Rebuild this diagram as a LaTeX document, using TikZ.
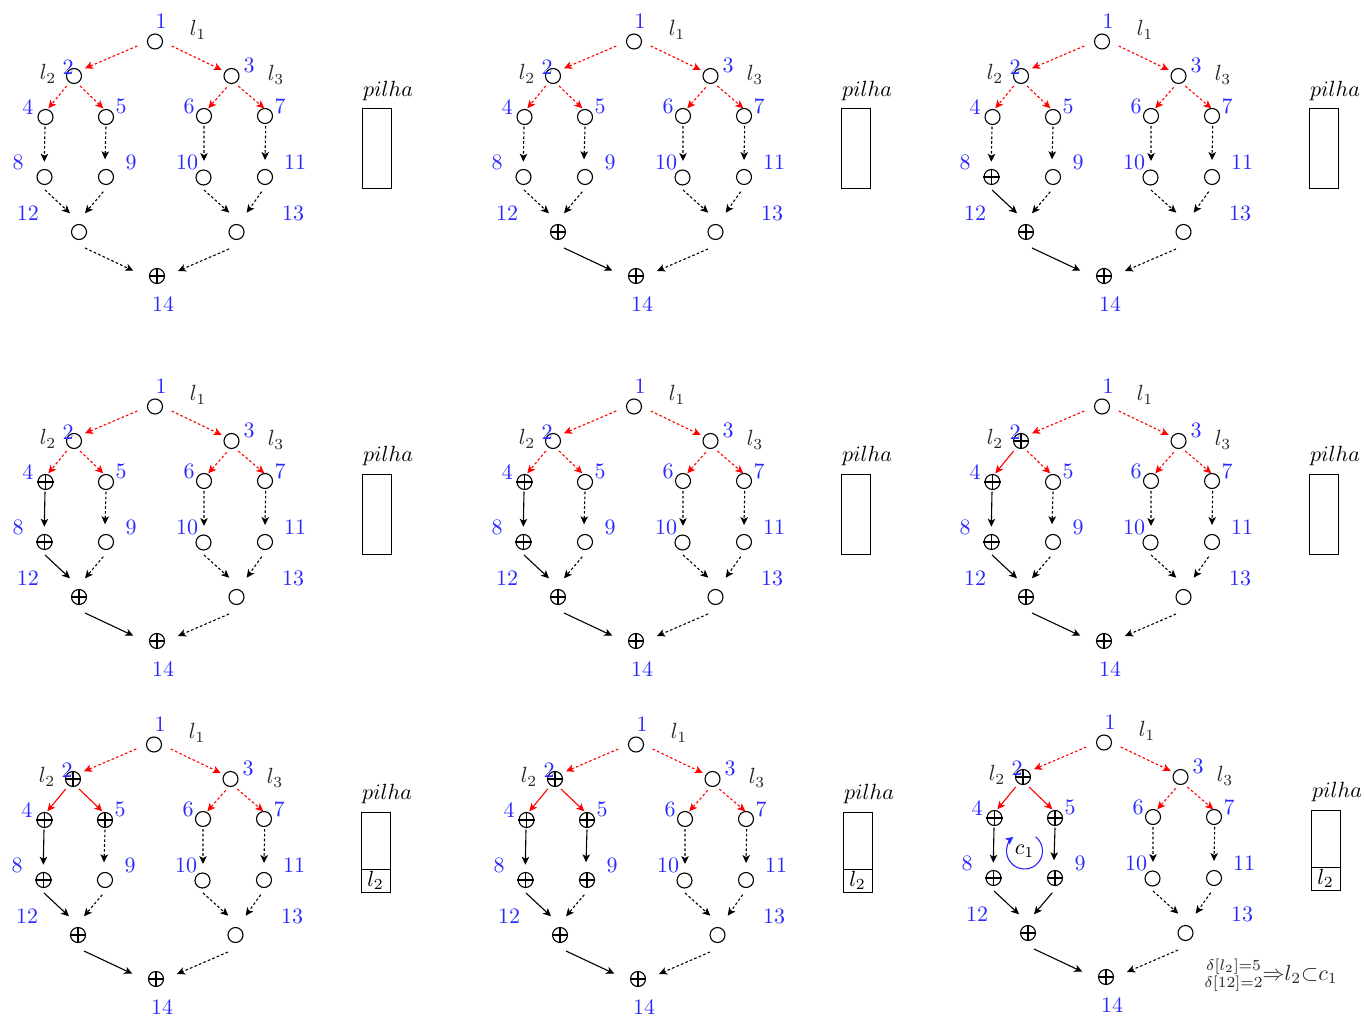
\documentclass[tikz,border=0pt]{standalone}
\usepackage{amsmath}
\usetikzlibrary{arrows.meta}
\newdimen\pxu \pxu=0.454545pt
\definecolor{numblue}{RGB}{40,40,255}
\tikzset{
  vertex/.style={circle, draw, line width=0.5pt, inner sep=0pt, minimum size=15\pxu},
  numlabel/.style={text=numblue, inner sep=0pt},
  varlabel/.style={text=black!85, inner sep=0pt},
  edge base/.style={line width=0.5pt, -{Stealth[length=3.6pt,width=3.4pt,inset=0.9pt]}},
  pending/.style={edge base, dash pattern=on 1.2pt off 1pt},
  done/.style={edge base},
  stackbox/.style={draw, line width=0.45pt, minimum width=29\pxu, minimum height=80\pxu, inner sep=0pt},
  stackcell/.style={draw, line width=0.45pt, minimum width=29\pxu, minimum height=23\pxu, inner sep=0pt},
}

% #1 prefix, #2/#3 offset, #4 visited vertices, #5 traversed edges, #6 stack entry
\newcommand\drawpanel[6]{%
\begin{scope}[shift={(#2,#3)}]
  \foreach \n/\x/\y in {1/155/41.5, 2/74/76, 3/231.5/76, 4/45.5/117, 5/106/117,
      6/204/116, 7/265/116, 8/44.5/177, 9/106/177, 10/203.5/177.5, 11/265/177,
      12/79/232, 13/236.5/232, 14/157/276}
    \node[vertex] (#1\n) at (\x,\y) {};
  \foreach \n in {#4}
    \draw[line width=0.5pt] (#1\n.north) -- (#1\n.south) (#1\n.west) -- (#1\n.east);
  \foreach \n/\x/\y in {1/161/21, 2/68/67, 3/249/65, 4/28/107, 5/121/106, 6/189/106,
      7/280/106, 8/18/162, 9/131/162, 10/187/162, 11/295/162, 12/28/213, 13/293/213,
      14/163/304}
    \node[numlabel] (#1t\n) at (\x,\y) {\n};
  \node[varlabel] (#1l1) at (198,30) {$l_1$};
  \node[varlabel] (#1l2) at (48,74) {$l_2$};
  \node[varlabel] (#1l3) at (276,75) {$l_3$};
  \foreach \e in {#5}
    {\expandafter\gdef\csname solid@#1@\e\endcsname{}}
  % from/to/colour/start offset/end offset
  \foreach \a/\b/\c/\sx/\sy/\ex/\ey in {
      1/2/red/-17.7/4.5/11/-7.7,      1/3/red/16.7/4.5/-9.8/-6,
      2/4/red/-7.3/10/2.8/-8.7,       2/5/red/6/10/-2.7/-8.7,
      3/6/red/-4.8/11.3/4.3/-7.7,     3/7/red/6.8/10/-0.7/-7.7,
      4/8/black/-0.5/9.7/-0.2/-15.3,  5/9/black/0/9.7/-1/-17.7,
      6/10/black/0/10/0.5/-16.5,      7/11/black/0.7/10/0/-17,
      8/12/black/0.5/13/-9/-18.7,     9/12/black/-2.7/14.7/6/-18.7,
      10/13/black/0.5/12.5/-7.2/-19.3, 11/13/black/-3.3/14.7/10.2/-19.3,
      12/14/black/6/16/-23.7/-5.3,    13/14/black/-7.5/17/21/-5}
  {
    \ifcsname solid@#1@\a-\b\endcsname \def\estyle{done}\else\def\estyle{pending}\fi
    \draw[\estyle, draw=\c]
      ([shift={(\sx,\sy)}]#1\a.center) -- ([shift={(\ex,\ey)}]#1\b.center);
  }
  \node[inner sep=0pt] (#1pilha) at (388,91) {$pilha$};
  \node[stackbox] (#1stack) at (376.5,149) {};
  \if\relax\detokenize{#6}\relax\else
    \node[stackcell, anchor=south] (#1cell) at (#1stack.south) {#6};
  \fi
\end{scope}}

\begin{document}
\begin{tikzpicture}[x=0.454545pt, y=-0.454545pt]
  \useasboundingbox (0,0) rectangle (1364,1017);

  \drawpanel{A}{0}{0}{14}{}{}
  \drawpanel{B}{479}{0}{12,14}{12-14}{}
  \drawpanel{C}{947}{0}{8,12,14}{8-12,12-14}{}

  \drawpanel{D}{0}{365}{4,8,12,14}{4-8,8-12,12-14}{}
  \drawpanel{E}{479}{365}{4,8,12,14}{4-8,8-12,12-14}{}
  \drawpanel{F}{947}{365}{2,4,8,12,14}{2-4,4-8,8-12,12-14}{}

  \drawpanel{G}{-1}{703}{2,4,5,8,12,14}{2-4,2-5,4-8,8-12,12-14}{$l_2$}
  \drawpanel{H}{481}{703}{2,4,5,8,9,12,14}{2-4,2-5,4-8,5-9,8-12,12-14}{$l_2$}
  \drawpanel{I}{949}{701}{2,4,5,8,9,12,14}{2-4,2-5,4-8,5-9,8-12,9-12,12-14}{$l_2$}

  % cycle found in the last step
  \begin{scope}[shift={(949,701)}]
    \node[inner sep=0pt] (Ic1) at (75.5,150) {$c_1$};
    \draw[numblue, line width=0.5pt, -{Stealth[length=3.6pt,width=3.4pt,inset=0.9pt]}]
      ([shift={(-52:18)}]Ic1.center) arc[start angle=-52, end angle=232, radius=18];
    \node[inner sep=0pt, text=black!85] (Idelta) at (322,274)
      {$\substack{\delta[l_2]=5\\ \delta[12]=2}{\Rightarrow}{l_2}{\subset}{c_1}$};
  \end{scope}
\end{tikzpicture}
\end{document}
